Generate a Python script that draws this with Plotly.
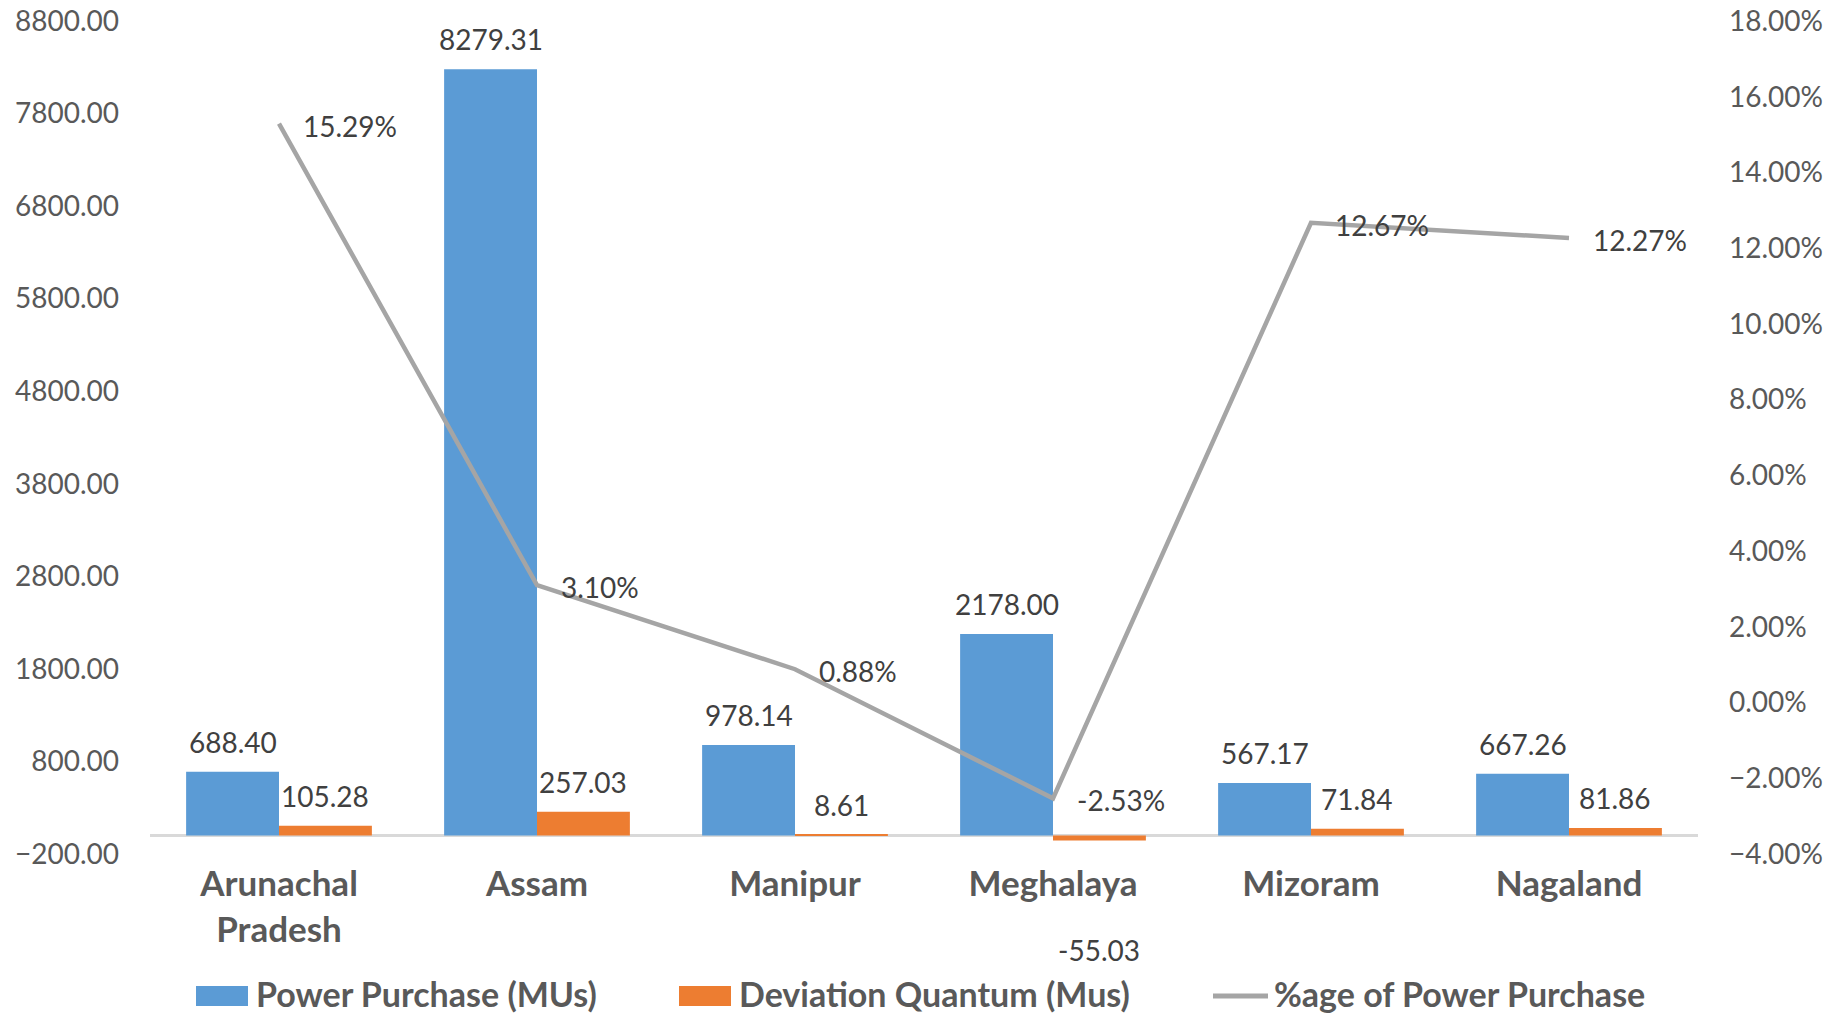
import plotly.graph_objects as go

# ---------------- data ----------------
states = ["Arunachal<br>Pradesh", "Assam", "Manipur", "Meghalaya", "Mizoram", "Nagaland"]
power_purchase = [688.40, 8279.31, 978.14, 2178.00, 567.17, 667.26]
deviation_quantum = [105.28, 257.03, 8.61, -55.03, 71.84, 81.86]
pct_of_purchase = [0.1529, 0.0310, 0.0088, -0.0253, 0.1267, 0.1227]

left_ticks = [-200, 800, 1800, 2800, 3800, 4800, 5800, 6800, 7800, 8800]
right_ticks = [-0.04, -0.02, 0.0, 0.02, 0.04, 0.06, 0.08, 0.10, 0.12, 0.14, 0.16, 0.18]

series_names = ["Power Purchase (MUs)", "Deviation Quantum (Mus)", "%age of Power Purchase"]

# ---------------- style ----------------
W, H = 1840, 1016
ML, MR, MT, MB = 150, 142, 21, 162
PW, PH = W - ML - MR, H - MT - MB
FONT = "Lato"
BLUE, ORANGE, GREY = "#5B9BD5", "#ED7D31", "#A5A5A5"
TICK_COL, LABEL_COL = "#595959", "#404040"
BARGAP = 0.28
half_bar = PW / len(states) * (1 - BARGAP) / 4  # center offset of each bar in group


def px_x(p):
    return (p - ML) / PW


def px_y(p):
    return (MT + PH - p) / PH


fig = go.Figure()
fig.add_trace(go.Bar(x=states, y=power_purchase, name=series_names[0],
                     marker=dict(color=BLUE, line=dict(width=0)), showlegend=False))
fig.add_trace(go.Bar(x=states, y=deviation_quantum, name=series_names[1],
                     marker=dict(color=ORANGE, line=dict(width=0)), showlegend=False))
fig.add_trace(go.Scatter(x=states, y=pct_of_purchase, name=series_names[2], yaxis="y2",
                         mode="lines", line=dict(color=GREY, width=4.5), showlegend=False))

annotations = []
label_font = dict(family=FONT, size=28, color=LABEL_COL)
for s, v in zip(states, power_purchase):
    annotations.append(dict(x=s, y=v, xref="x", yref="y", text=f"{v:.2f}", showarrow=False,
                            xshift=-half_bar, yshift=30, yanchor="middle", xanchor="center",
                            font=label_font))
for s, v in zip(states, deviation_quantum):
    annotations.append(dict(x=s, y=v, xref="x", yref="y", text=f"{v:.2f}", showarrow=False,
                            xshift=half_bar, yshift=30 if v >= 0 else -109,
                            yanchor="middle", xanchor="center", font=label_font))
for s, v in zip(states, pct_of_purchase):
    annotations.append(dict(x=s, y=v, xref="x", yref="y2", text=f"{v * 100:.2f}%", showarrow=False,
                            xshift=22, yshift=-2, yanchor="middle", xanchor="left",
                            font=label_font))

# custom legend (text as real text)
leg_font = dict(family=FONT, size=34, color=TICK_COL, weight="bold")
leg_y = 993
shapes = [
    dict(type="rect", xref="paper", yref="paper", x0=px_x(196), x1=px_x(248),
         y0=px_y(1006), y1=px_y(986), fillcolor=BLUE, line=dict(width=0)),
    dict(type="rect", xref="paper", yref="paper", x0=px_x(679), x1=px_x(731),
         y0=px_y(1006), y1=px_y(986), fillcolor=ORANGE, line=dict(width=0)),
    dict(type="line", xref="paper", yref="paper", x0=px_x(1213), x1=px_x(1268),
         y0=px_y(996), y1=px_y(996), line=dict(color=GREY, width=5)),
]
for name, xl in zip(series_names, [254, 737, 1272]):
    annotations.append(dict(x=px_x(xl), y=px_y(leg_y), xref="paper", yref="paper", text=name,
                            showarrow=False, xanchor="left", yanchor="middle", font=leg_font))

fig.update_layout(
    width=W, height=H,
    margin=dict(l=ML, r=MR, t=MT, b=MB, pad=0, autoexpand=False),
    paper_bgcolor="white", plot_bgcolor="white",
    barmode="group", bargap=BARGAP, bargroupgap=0,
    font=dict(family=FONT, color=TICK_COL),
    annotations=annotations, shapes=shapes,
    xaxis=dict(showgrid=False, showline=False, ticks="", zeroline=False, automargin=False,
               tickfont=dict(family=FONT, size=35, color=TICK_COL, weight="bold"),
               ticklabelstandoff=6),
    yaxis=dict(range=[-200, 8800], tickvals=left_ticks, tickformat=".2f", automargin=False,
               showgrid=False, showline=False, ticks="",
               zeroline=True, zerolinecolor="#D9D9D9", zerolinewidth=2.5,
               tickfont=dict(family=FONT, size=28, color=TICK_COL),
               ticklabelstandoff=30),
    yaxis2=dict(range=[-0.04, 0.18], tickvals=right_ticks, tickformat=".2%", automargin=False,
                overlaying="y", side="right", showgrid=False, showline=False,
                ticks="", zeroline=False,
                tickfont=dict(family=FONT, size=28, color=TICK_COL),
                ticklabelstandoff=30),
)

fig.write_html("out.html")
